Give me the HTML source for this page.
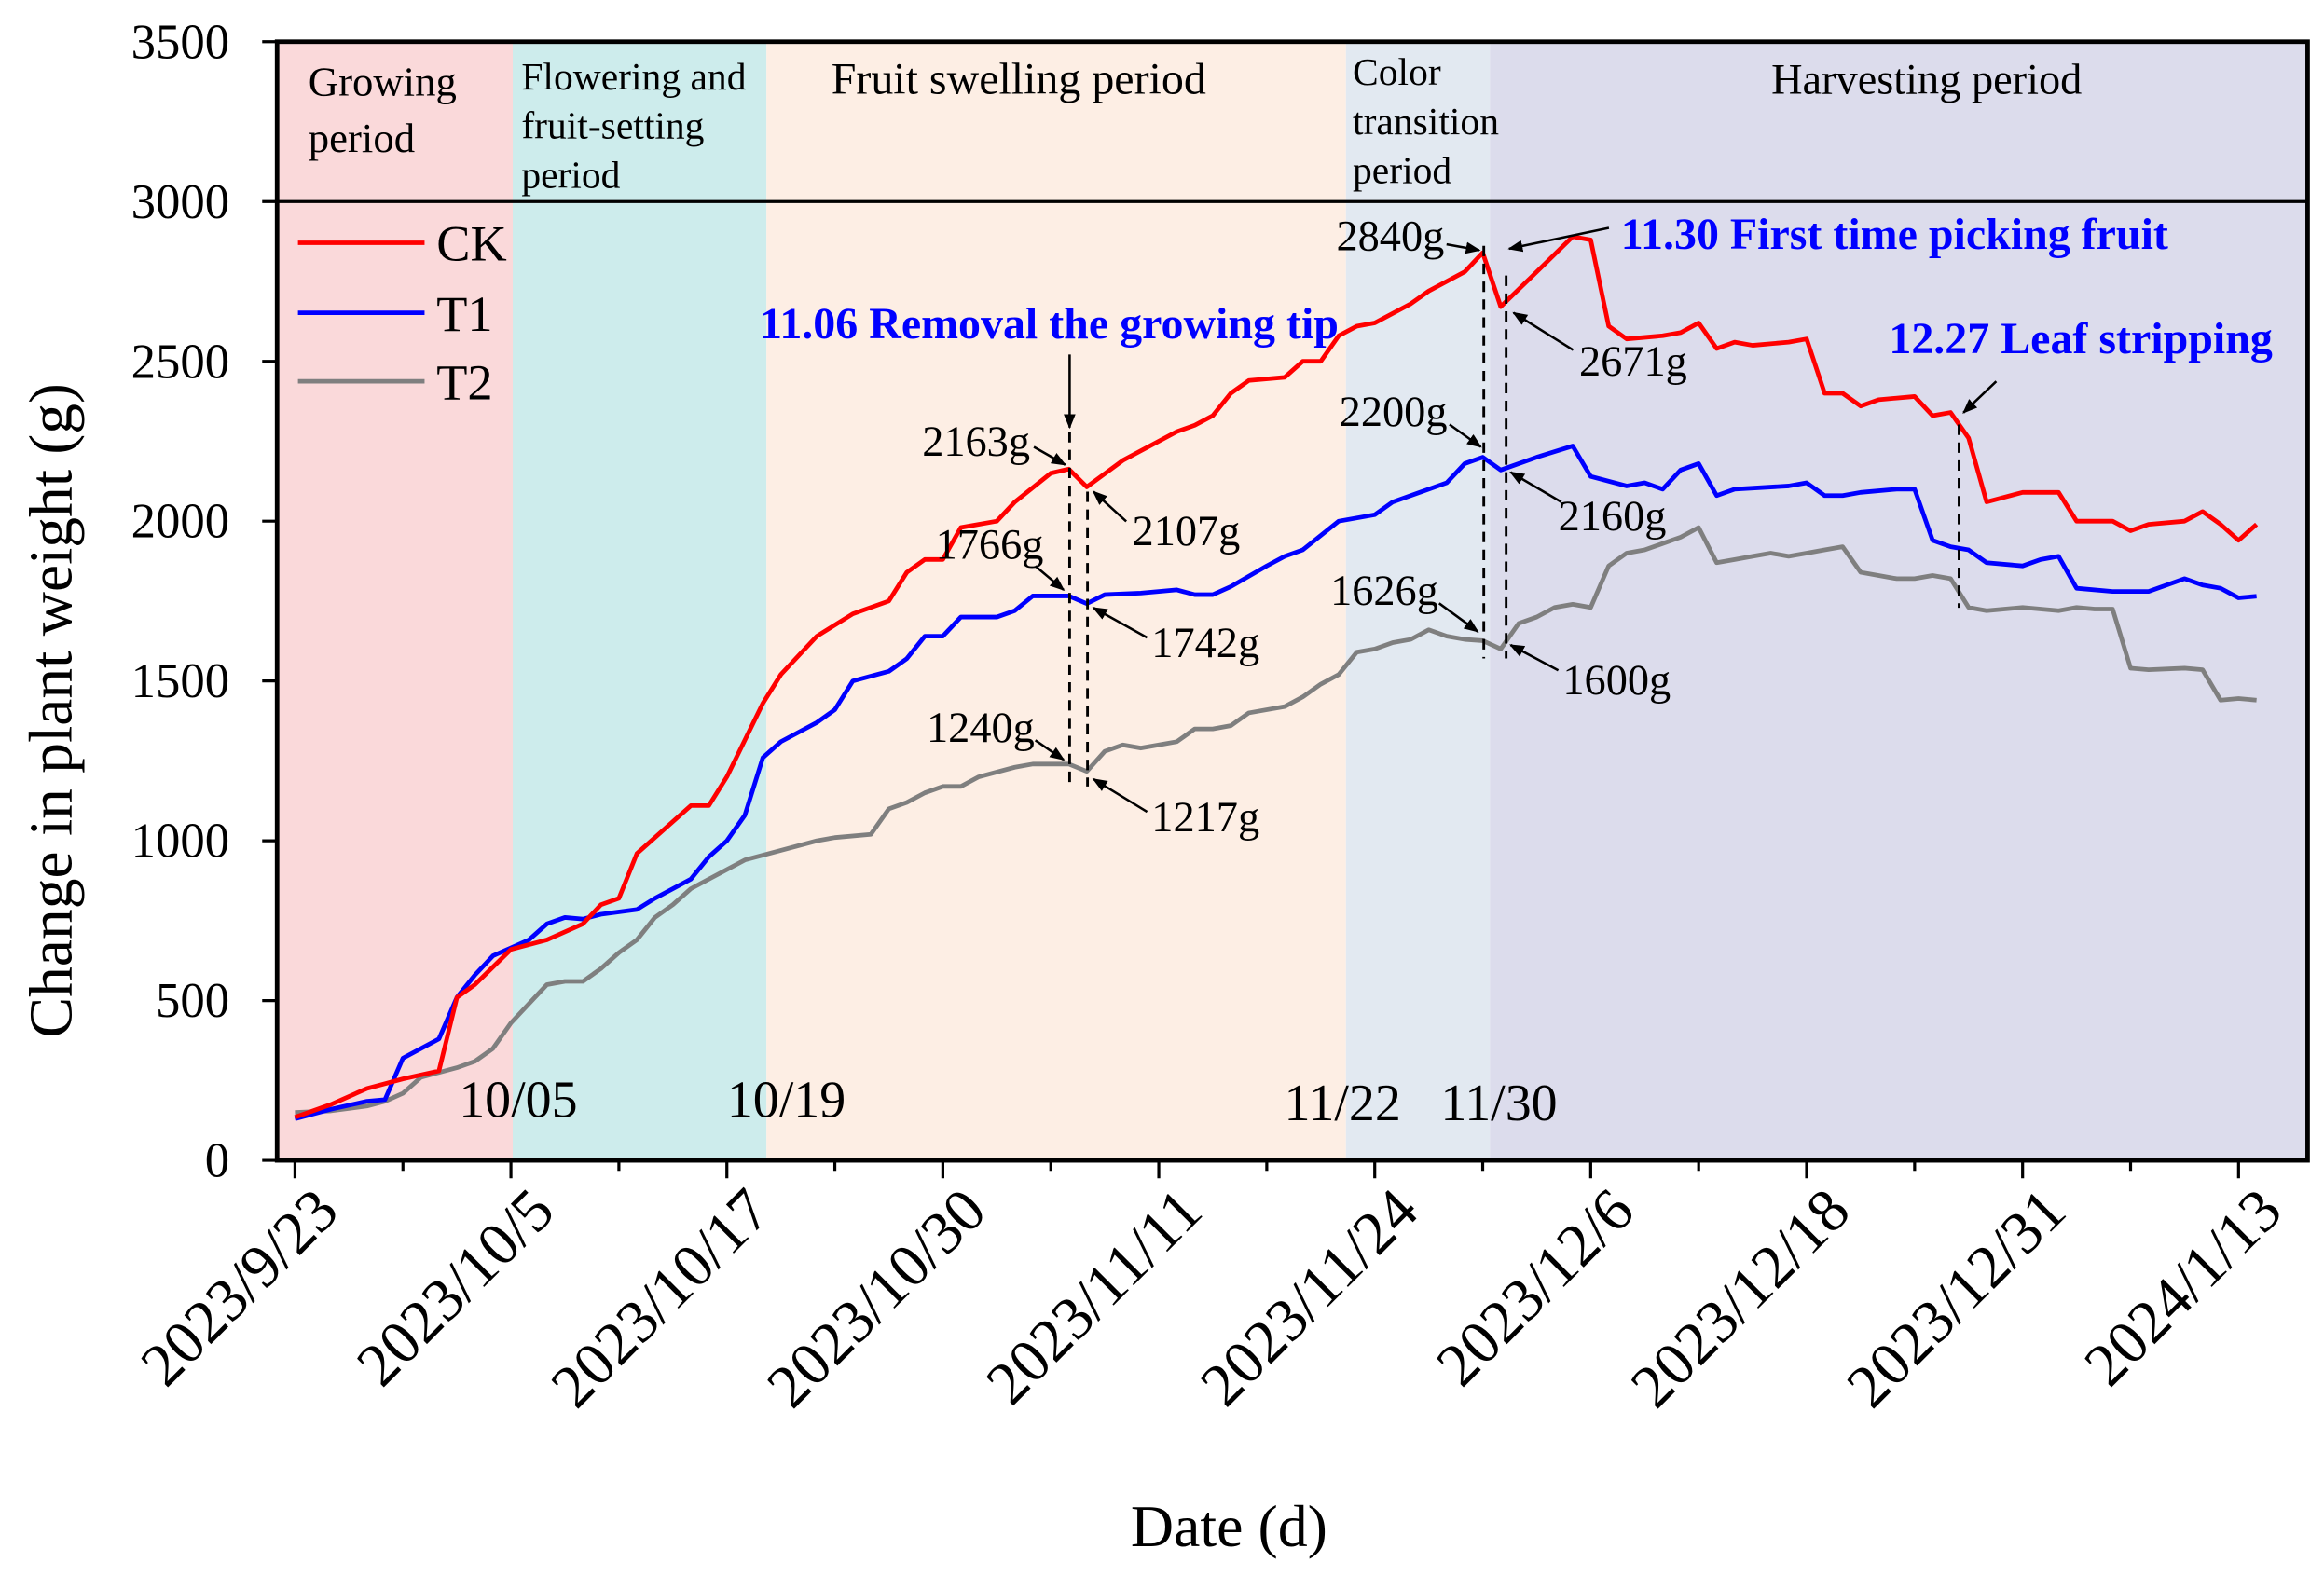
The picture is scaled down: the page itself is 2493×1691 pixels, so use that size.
<!DOCTYPE html>
<html><head><meta charset="utf-8"><style>
html,body{margin:0;padding:0;background:#fff}
svg{display:block;font-family:"Liberation Serif",serif}
</style></head><body>
<svg id="chart" width="2493" height="1691" viewBox="0 0 1560 1058" preserveAspectRatio="none" xmlns="http://www.w3.org/2000/svg">
<g id="bands"></g>
<g id="grid"></g>
<g id="series"></g>
<g id="annot"></g>
<g id="axes"></g>
</svg>
<script>
const tickLabels=["2023/9/23","2023/10/5","2023/10/17","2023/10/30","2023/11/11","2023/11/24","2023/12/6","2023/12/18","2023/12/31","2024/1/13"];
const yTicks=[0,500,1000,1500,2000,2500,3000,3500];
const ckIdx=[0,2,4,5,6,8,9,10,12,14,16,17,18,19,20,22,23,24,26,27,29,31,33,34,35,36,37,39,40,42,43,44,46,49,50,51,52,53,55,56,57,58,59,60,62,63,65,66,67,69,71,72,73,74,76,77,78,79,80,81,83,84,85,86,87,88,90,91,92,93,94,96,98,99,101,102,103,105,106,107,108,109];
const ckVal=[135,175,225,240,255,280,510,550,660,690,740,800,820,960,1010,1110,1110,1200,1430,1520,1640,1710,1750,1840,1880,1880,1980,2000,2060,2150,2163,2107,2190,2280,2300,2330,2400,2440,2450,2500,2500,2580,2610,2620,2680,2720,2780,2840,2671,2780,2890,2880,2610,2570,2580,2590,2620,2540,2560,2550,2560,2570,2400,2400,2360,2380,2390,2330,2340,2260,2060,2090,2090,2000,2000,1970,1990,2000,2030,1990,1940,1990];
const t1Idx=[0,2,4,5,6,8,9,10,11,12,13,14,15,16,17,19,20,22,23,24,25,26,27,29,30,31,33,34,35,36,37,39,40,41,43,44,45,47,49,50,51,52,54,55,56,58,60,61,63,64,65,66,67,69,71,72,74,75,76,77,78,79,80,83,84,85,86,87,89,90,91,92,93,94,96,97,98,99,101,103,105,106,107,108,109];
const t1Val=[130,160,185,190,320,380,510,580,640,665,690,740,760,755,770,785,820,880,950,1000,1080,1260,1310,1370,1410,1500,1530,1570,1640,1640,1700,1700,1720,1766,1766,1742,1770,1775,1785,1770,1770,1795,1860,1890,1910,2000,2020,2060,2100,2120,2180,2200,2160,2200,2235,2140,2110,2120,2100,2160,2180,2080,2100,2110,2120,2080,2080,2090,2100,2100,1940,1920,1910,1870,1860,1880,1890,1790,1780,1780,1820,1800,1790,1760,1765];
const t2Idx=[0,2,4,5,6,7,9,10,11,12,13,14,15,16,17,18,19,20,21,22,23,24,25,27,29,30,32,33,34,35,36,37,38,40,41,43,44,45,46,47,48,49,50,51,52,53,55,56,57,58,59,60,61,62,63,64,65,66,67,68,69,70,71,72,73,74,75,76,77,78,79,80,81,82,83,84,85,86,87,88,89,90,91,92,93,94,96,98,99,100,101,102,103,105,106,107,108,109];
const t2Val=[150,155,170,185,210,260,290,310,350,430,490,550,560,560,600,650,690,760,800,850,880,910,940,970,1000,1010,1020,1100,1120,1150,1170,1170,1200,1230,1240,1240,1217,1280,1300,1290,1300,1310,1350,1350,1360,1400,1420,1450,1490,1520,1590,1600,1620,1630,1660,1640,1630,1626,1600,1680,1700,1730,1740,1730,1860,1900,1910,1930,1950,1980,1870,1880,1890,1900,1890,1900,1910,1920,1840,1830,1820,1820,1830,1820,1730,1720,1730,1720,1730,1725,1725,1540,1535,1540,1535,1440,1445,1440];
const bandEdges=[-1,12.1,26.2,58.4,66.4,112];
const bandColors=["#fad9da","#cdecec","#fdeee4","#e2e9f1","#dcdcec"];

const NS="http://www.w3.org/2000/svg";
const L=186,R=1549,T=28,B=779;
const xs=i=>198+i*12.08;
const ys=v=>B-v*(B-T)/3500;
function mk(tag,attrs,parent,text){const e=document.createElementNS(NS,tag);for(const k in attrs)e.setAttribute(k,attrs[k]);if(text!==undefined)e.textContent=text;parent.appendChild(e);return e;}
const bands=document.getElementById('bands'),series=document.getElementById('series'),axes=document.getElementById('axes'),grid=document.getElementById('grid');
const bandNames=['growing-period-band','flowering-band','fruit-swelling-band','color-transition-band','harvesting-band'];
for(let k=0;k<5;k++){
  const x0=Math.max(L,xs(bandEdges[k])),x1=Math.min(R,xs(bandEdges[k+1]));
  const r=mk('rect',{x:x0,y:T,width:x1-x0,height:B-T,fill:bandColors[k]},bands);
  
  
}
const hl=mk('line',{x1:L,x2:R,y1:ys(3000),y2:ys(3000),stroke:'#000','stroke-width':2},grid);


function drawSeries(idx,val,color,name){
  const p=mk('polyline',{points:idx.map((d,i)=>xs(d)+','+ys(val[i])).join(' '),fill:'none',stroke:color,'stroke-width':3,'stroke-linejoin':'round'},series);
  
  
}
drawSeries(t2Idx,t2Val,'#7f7f7f','t2-line');
drawSeries(t1Idx,t1Val,'#0000ff','t1-line');
drawSeries(ckIdx,ckVal,'#ff0000','ck-line');
const fr=mk('rect',{x:L,y:T,width:R-L,height:B-T,fill:'none',stroke:'#000','stroke-width':3},axes);


yTicks.forEach(v=>{
  mk('line',{x1:L-10,x2:L,y1:ys(v),y2:ys(v),stroke:'#000','stroke-width':2},axes);
  const t=mk('text',{x:L-32,y:ys(v)+11,'text-anchor':'end','font-size':33},axes,String(v));
  
  
});
tickLabels.forEach((s,k)=>{
  const x=xs(k*12);
  mk('line',{x1:x,x2:x,y1:B,y2:B+12,stroke:'#000','stroke-width':2},axes);
  const t=mk('text',{x:x+31,y:B+36,'text-anchor':'end','font-size':41,transform:`rotate(-45 ${x+31} ${B+36})`},axes,s);
  
  
});
for(let k=0;k<9;k++){const x=xs(k*12+6);mk('line',{x1:x,x2:x,y1:B,y2:B+7,stroke:'#000','stroke-width':2},axes);}
</script>
<script>
const A=document.getElementById('annot');
A.innerHTML=`
<defs><marker id="ah" markerWidth="10" markerHeight="10" refX="9" refY="5" orient="auto" markerUnits="userSpaceOnUse"><path d="M0,1 L10,5 L0,9 z" fill="#000"/></marker></defs>
<g font-size="28" fill="#000">
<text x="207" y="64">Growing</text>
<text x="207" y="102">period</text>
<text x="350" y="60" font-size="26">Flowering and</text>
<text x="350" y="93" font-size="26">fruit-setting</text>
<text x="350" y="126" font-size="26">period</text>
<text x="558" y="63" font-size="30">Fruit swelling period</text>
<text x="908" y="57" font-size="26">Color</text>
<text x="908" y="90" font-size="26">transition</text>
<text x="908" y="123" font-size="26">period</text>
<text x="1189" y="63" font-size="29">Harvesting period</text>
<text x="308" y="750" font-size="35">10/05</text>
<text x="488" y="750" font-size="35">10/19</text>
<text x="862" y="752" font-size="35">11/22</text>
<text x="967" y="752" font-size="35">11/30</text>
</g>
<g font-size="34">
<line x1="200" x2="285" y1="163" y2="163" stroke="#ff0000" stroke-width="3"/><text x="293" y="175">CK</text>
<line x1="200" x2="285" y1="210" y2="210" stroke="#0000ff" stroke-width="3"/><text x="293" y="222">T1</text>
<line x1="200" x2="285" y1="256" y2="256" stroke="#7f7f7f" stroke-width="3"/><text x="293" y="268">T2</text>
</g>
<g stroke="#000" stroke-width="1.8" stroke-dasharray="7,5">
<line x1="718" x2="718" y1="290" y2="528"/><line x1="730" x2="730" y1="330" y2="528"/>
<line x1="996" x2="996" y1="165" y2="442"/><line x1="1011" x2="1011" y1="185" y2="442"/>
<line x1="1315" x2="1315" y1="285" y2="408"/>
</g>
<g font-size="30" font-weight="bold" fill="#0000ff">
<text x="510" y="227">11.06 Removal the growing tip</text>
<text x="1088" y="167">11.30 First time picking fruit</text>
<text x="1268" y="237">12.27 Leaf stripping</text>
</g>
<g stroke="#000" stroke-width="1.6" marker-end="url(#ah)">
<line x1="718" y1="238" x2="718" y2="287"/>
<line x1="1080" y1="153" x2="1013" y2="167"/>
<line x1="1340" y1="256" x2="1318" y2="277"/>
<line x1="694" y1="300" x2="715" y2="312"/>
<line x1="756" y1="350" x2="734" y2="330"/>
<line x1="695" y1="380" x2="714" y2="396"/>
<line x1="770" y1="428" x2="734" y2="408"/>
<line x1="695" y1="497" x2="714" y2="510"/>
<line x1="770" y1="545" x2="734" y2="523"/>
<line x1="971" y1="164" x2="993" y2="168"/>
<line x1="1056" y1="235" x2="1016" y2="210"/>
<line x1="973" y1="285" x2="994" y2="300"/>
<line x1="1048" y1="337" x2="1014" y2="317"/>
<line x1="966" y1="405" x2="992" y2="424"/>
<line x1="1046" y1="450" x2="1014" y2="433"/>
</g>
<g font-size="29" fill="#000">
<text x="619" y="306">2163g</text>
<text x="760" y="366">2107g</text>
<text x="628" y="375">1766g</text>
<text x="773" y="441">1742g</text>
<text x="622" y="498">1240g</text>
<text x="773" y="558">1217g</text>
<text x="897" y="168">2840g</text>
<text x="1060" y="252">2671g</text>
<text x="899" y="286">2200g</text>
<text x="1046" y="356">2160g</text>
<text x="893" y="406">1626g</text>
<text x="1049" y="466">1600g</text>
</g>
<text x="48" y="477" font-size="41" text-anchor="middle" transform="rotate(-90 48 477)">Change in plant weight (g)</text>
<text x="825" y="1038" font-size="40" text-anchor="middle">Date (d)</text>
`;
</script>
</body></html>
